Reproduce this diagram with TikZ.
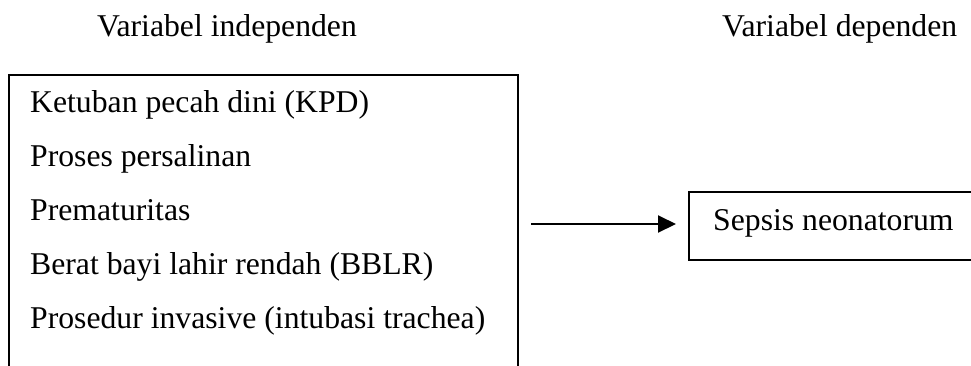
\documentclass[tikz,border=0pt]{standalone}
\usepackage{fontspec}
\setmainfont{Liberation Serif}
\usetikzlibrary{arrows.meta}
\begin{document}
\begin{tikzpicture}[x=1pt,y=-1pt,
  txt/.style={anchor=base west,inner sep=0pt,font=\fontsize{31.7}{38}\selectfont},
  boxline/.style={draw=black,line width=1.5pt,inner sep=0pt,outer sep=0pt},
  conn/.style={line width=2pt,-{Triangle[length=18pt,width=17pt]}}]
\useasboundingbox (0,0) rectangle (971,365);
% titles
\node[txt] (t1) at (97,36) {Variabel independen};
\node[txt] (t2) at (722,36) {Variabel dependen};
% left box (open at the bottom, cut by the page)
\node[boxline,anchor=north west,minimum width=509pt,minimum height=330pt] (lbox) at (9,75) {};
\node[txt] (l1) at (30,112) {Ketuban pecah dini (KPD)};
\node[txt] (l2) at (30,166) {Proses persalinan};
\node[txt] (l3) at (30,220) {Prematuritas};
\node[txt] (l4) at (30,274) {Berat bayi lahir rendah (BBLR)};
\node[txt] (l5) at (30,328) {Prosedur invasive (intubasi trachea)};
% right box (open at the right, cut by the page)
\node[boxline,anchor=north west,minimum width=330pt,minimum height=68pt] (sbox) at (689,192) {};
\node[txt] (s1) at (713,230) {Sepsis neonatorum};
% arrow
\coordinate (a0) at (531,224);
\draw[conn] (a0) -- ([xshift=-13pt]sbox.west |- a0);
\end{tikzpicture}
\end{document}
